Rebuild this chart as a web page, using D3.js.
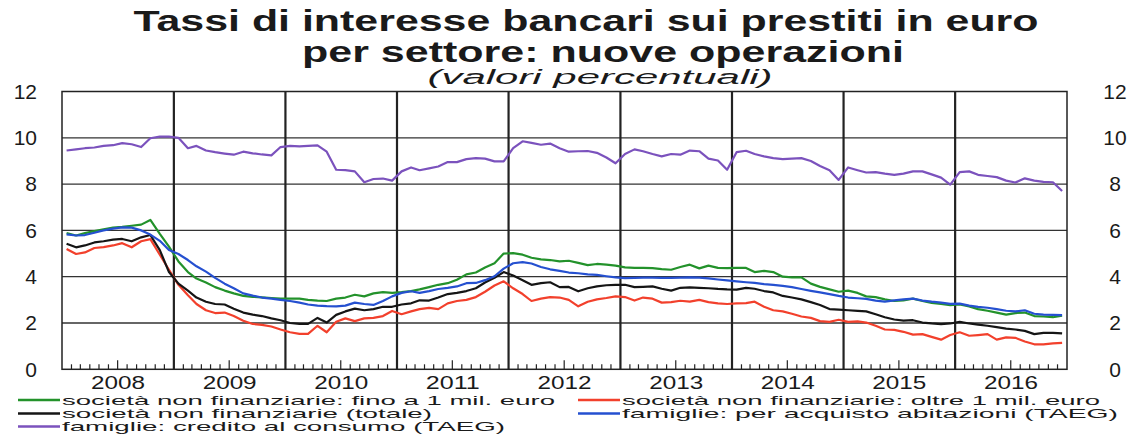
<!DOCTYPE html>
<html>
<head>
<meta charset="utf-8">
<script src="https://cdn.jsdelivr.net/npm/d3@7"></script>
<style>
  html, body { margin: 0; padding: 0; background: #fff; }
  svg { display: block; font-family: "Liberation Sans", Arial, sans-serif; }
</style>
</head>
<body>
<svg id="chart" width="1130" height="434"></svg>
<script>
// ---------- DATA (monthly, Jan 2008 - Dec 2016) ----------
const startYear = 2008;
const yearLabels = ["2008","2009","2010","2011","2012","2013","2014","2015","2016"];
const yTicks = [0, 2, 4, 6, 8, 10, 12];

const sncFino1 = [
  5.88, 5.78, 5.88, 5.97, 6.05, 6.12, 6.15, 6.20, 6.25, 6.45, 5.85, 5.30,
  4.66, 4.20, 3.92, 3.75, 3.55, 3.40, 3.28, 3.17, 3.13, 3.11, 3.08, 3.05,
  3.05, 3.05, 3.00, 2.97, 2.95, 3.05, 3.10, 3.22, 3.15, 3.28, 3.33, 3.30,
  3.33, 3.38, 3.45, 3.55, 3.65, 3.72, 3.87, 4.10, 4.18, 4.40, 4.58, 5.00,
  5.02, 4.95, 4.82, 4.75, 4.72, 4.66, 4.69, 4.60, 4.50, 4.55, 4.52, 4.48,
  4.40, 4.38, 4.38, 4.37, 4.33, 4.30, 4.42, 4.52, 4.36, 4.48, 4.38, 4.37,
  4.38, 4.38, 4.20, 4.25, 4.20, 4.00, 3.97, 3.97, 3.70, 3.56, 3.45, 3.35,
  3.40, 3.30, 3.15, 3.12, 3.02, 2.95, 2.98, 3.05, 2.95, 2.87, 2.82, 2.77,
  2.80, 2.72, 2.60, 2.53, 2.45, 2.36, 2.43, 2.45, 2.30, 2.28, 2.25, 2.32
];
const sncOltre1 = [
  5.20, 4.98, 5.05, 5.24, 5.28, 5.35, 5.45, 5.27, 5.53, 5.62, 4.95, 4.30,
  3.65, 3.20, 2.82, 2.55, 2.43, 2.45, 2.30, 2.10, 1.96, 1.92, 1.85, 1.72,
  1.60, 1.53, 1.53, 1.88, 1.60, 2.05, 2.20, 2.08, 2.20, 2.22, 2.30, 2.52,
  2.38, 2.50, 2.60, 2.65, 2.60, 2.85, 2.95, 3.00, 3.12, 3.35, 3.62, 3.80,
  3.50, 3.25, 2.95, 3.05, 3.12, 3.10, 3.00, 2.72, 2.92, 3.02, 3.08, 3.15,
  3.12, 2.97, 3.10, 3.05, 2.88, 2.90, 2.96, 2.92, 3.00, 2.90, 2.85, 2.82,
  2.85, 2.86, 2.92, 2.70, 2.55, 2.50, 2.40, 2.28, 2.22, 2.08, 2.05, 2.14,
  2.05, 2.07, 2.02, 1.88, 1.72, 1.70, 1.62, 1.50, 1.52, 1.40, 1.28, 1.48,
  1.60, 1.45, 1.48, 1.52, 1.28, 1.38, 1.36, 1.20, 1.08, 1.08, 1.12, 1.14
];
const sncTotale = [
  5.42, 5.27, 5.35, 5.48, 5.53, 5.60, 5.63, 5.53, 5.70, 5.80, 5.15, 4.20,
  3.70, 3.40, 3.10, 2.92, 2.82, 2.80, 2.62, 2.45, 2.36, 2.30, 2.20, 2.12,
  2.00, 1.96, 1.96, 2.22, 2.02, 2.35, 2.50, 2.62, 2.55, 2.60, 2.70, 2.70,
  2.80, 2.85, 2.98, 2.97, 3.10, 3.25, 3.30, 3.38, 3.50, 3.75, 3.95, 4.20,
  4.05, 3.85, 3.65, 3.72, 3.76, 3.55, 3.56, 3.37, 3.50, 3.58, 3.63, 3.65,
  3.65, 3.55, 3.56, 3.58, 3.48, 3.40, 3.52, 3.54, 3.52, 3.50, 3.47, 3.45,
  3.44, 3.52, 3.48, 3.38, 3.32, 3.17, 3.10, 3.02, 2.90, 2.78, 2.60, 2.58,
  2.55, 2.52, 2.50, 2.38, 2.25, 2.15, 2.10, 2.12, 2.02, 1.98, 1.95, 1.98,
  2.05, 1.98, 1.93, 1.88, 1.82, 1.76, 1.72, 1.66, 1.52, 1.57, 1.57, 1.55
];
const famAbitazioni = [
  5.83, 5.78, 5.80, 5.90, 6.00, 6.08, 6.13, 6.12, 6.00, 5.82, 5.55, 5.15,
  4.98, 4.72, 4.45, 4.22, 3.95, 3.70, 3.50, 3.28, 3.18, 3.10, 3.05, 3.00,
  2.95, 2.88, 2.80, 2.75, 2.73, 2.72, 2.75, 2.88, 2.82, 2.78, 2.95, 3.15,
  3.30, 3.37, 3.30, 3.38, 3.47, 3.52, 3.58, 3.72, 3.73, 3.85, 4.02, 4.35,
  4.58, 4.63, 4.57, 4.42, 4.32, 4.25, 4.18, 4.15, 4.10, 4.08, 4.02, 3.97,
  3.94, 3.95, 3.96, 3.96, 3.95, 3.95, 3.96, 3.97, 3.96, 3.93, 3.88, 3.84,
  3.80, 3.76, 3.73, 3.68, 3.65, 3.60, 3.55, 3.47, 3.39, 3.32, 3.25, 3.17,
  3.10, 3.07, 3.04, 2.97, 2.92, 2.98, 3.02, 3.05, 2.97, 2.92, 2.88, 2.83,
  2.84, 2.75, 2.70, 2.66, 2.60, 2.53, 2.50, 2.55, 2.40, 2.36, 2.35, 2.34
];
const famConsumo = [
  9.45, 9.50, 9.55, 9.58, 9.65, 9.68, 9.77, 9.72, 9.60, 9.98, 10.05, 10.05,
  10.00, 9.55, 9.65, 9.45, 9.38, 9.32, 9.27, 9.40, 9.33, 9.28, 9.24, 9.60,
  9.65, 9.63, 9.65, 9.67, 9.40, 8.62, 8.60, 8.55, 8.08, 8.22, 8.24, 8.15,
  8.55, 8.72, 8.60, 8.68, 8.76, 8.95, 8.95, 9.08, 9.12, 9.10, 8.98, 8.98,
  9.55, 9.85, 9.78, 9.70, 9.75, 9.55, 9.40, 9.42, 9.43, 9.35, 9.15, 8.90,
  9.30, 9.50, 9.42, 9.30, 9.20, 9.30, 9.27, 9.45, 9.42, 9.10, 9.02, 8.62,
  9.38, 9.44, 9.30, 9.20, 9.12, 9.08, 9.10, 9.12, 9.00, 8.78, 8.60, 8.18,
  8.72, 8.60, 8.50, 8.52, 8.45, 8.40, 8.45, 8.55, 8.55, 8.42, 8.28, 7.98,
  8.52, 8.55, 8.40, 8.35, 8.30, 8.15, 8.07, 8.25, 8.15, 8.10, 8.08, 7.70
];

const seriesNames = [
  "società non finanziarie: fino a 1 mil. euro",
  "società non finanziarie: oltre 1 mil. euro",
  "società non finanziarie (totale)",
  "famiglie: per acquisto abitazioni (TAEG)",
  "famiglie: credito al consumo (TAEG)"
];
const seriesColors = ["#23922b", "#f2402c", "#151515", "#2550d0", "#7b52bd"];
const seriesValues = [sncFino1, sncOltre1, sncTotale, famAbitazioni, famConsumo];

// ---------- LAYOUT ----------
const svg = d3.select("#chart");
const plot = { left: 62, right: 1067, top: 91.5, bottom: 369.3 };

const x = d3.scaleTime()
  .domain([new Date(startYear, 0, 1), new Date(startYear + yearLabels.length, 0, 1)])
  .range([plot.left, plot.right]);
const y = d3.scaleLinear().domain([0, 12]).range([plot.bottom, plot.top]);

const monthDate = i => new Date(startYear, i, 16);

// Title (the original artwork is horizontally stretched)
svg.append("text").attr("x", 586).attr("y", 31).attr("text-anchor", "middle")
  .attr("font-size", 30).attr("font-weight", "bold").attr("fill", "#1a1a1a")
  .attr("textLength", 905).attr("lengthAdjust", "spacingAndGlyphs")
  .text("Tassi di interesse bancari sui prestiti in euro");
svg.append("text").attr("x", 603).attr("y", 62).attr("text-anchor", "middle")
  .attr("font-size", 30).attr("font-weight", "bold").attr("fill", "#1a1a1a")
  .attr("textLength", 602).attr("lengthAdjust", "spacingAndGlyphs")
  .text("per settore: nuove operazioni");
svg.append("text").attr("x", 600).attr("y", 84).attr("text-anchor", "middle")
  .attr("font-size", 20).attr("font-style", "italic").attr("fill", "#1a1a1a")
  .attr("textLength", 345).attr("lengthAdjust", "spacingAndGlyphs")
  .text("(valori percentuali)");

// Horizontal gridlines
svg.append("g").selectAll("line").data(yTicks.filter(d => d > 0 && d < 12)).join("line")
  .attr("x1", plot.left).attr("x2", plot.right)
  .attr("y1", d => y(d)).attr("y2", d => y(d))
  .attr("stroke", "#333").attr("stroke-width", 1.3);

// Year separator lines
const years = d3.timeYear.range(new Date(startYear + 1, 0, 1), new Date(startYear + yearLabels.length, 0, 1));
svg.append("g").selectAll("line").data(years).join("line")
  .attr("x1", d => x(d)).attr("x2", d => x(d))
  .attr("y1", plot.top).attr("y2", plot.bottom)
  .attr("stroke", "#222").attr("stroke-width", 2.2);

// Monthly ticks (inside, from bottom)
const monthsAll = d3.timeMonth.range(new Date(startYear, 0, 1), new Date(startYear + yearLabels.length, 0, 1))
  .filter(d => d.getMonth() !== 0);
svg.append("g").selectAll("line").data(monthsAll).join("line")
  .attr("x1", d => x(d)).attr("x2", d => x(d))
  .attr("y1", plot.bottom).attr("y2", d => plot.bottom - (d.getMonth() === 6 ? 9 : 5))
  .attr("stroke", "#222").attr("stroke-width", 1.2);

// Frame
svg.append("rect").attr("x", plot.left).attr("y", plot.top)
  .attr("width", plot.right - plot.left).attr("height", plot.bottom - plot.top)
  .attr("fill", "none").attr("stroke", "#222").attr("stroke-width", 1.5);

// Left & right axis labels
svg.append("g").selectAll("text").data(yTicks).join("text")
  .attr("x", 37).attr("y", d => y(d)).attr("dy", "0.35em")
  .attr("text-anchor", "end").attr("font-size", 21).attr("fill", "#1a1a1a")
  .text(d => d);
svg.append("g").selectAll("text").data(yTicks).join("text")
  .attr("x", 1115).attr("y", d => y(d)).attr("dy", "0.35em")
  .attr("text-anchor", "middle").attr("font-size", 21).attr("fill", "#1a1a1a")
  .text(d => d);

// Year labels
svg.append("g").selectAll("text").data(yearLabels).join("text")
  .attr("x", (d, i) => (x(new Date(startYear + i, 0, 1)) + x(new Date(startYear + i + 1, 0, 1))) / 2)
  .attr("y", 389).attr("text-anchor", "middle").attr("font-size", 19).attr("fill", "#1a1a1a")
  .attr("textLength", 54).attr("lengthAdjust", "spacingAndGlyphs")
  .text(d => d);

// Series lines
const line = d3.line().x((d, i) => x(monthDate(i))).y(d => y(d));
svg.append("g").selectAll("path").data(seriesValues).join("path")
  .attr("d", d => line(d))
  .attr("fill", "none")
  .attr("stroke", (d, i) => seriesColors[i])
  .attr("stroke-width", 2.2)
  .attr("stroke-linejoin", "round");

// Legend
const legendPos = [
  { x: 18, y: 400, w: 493 },
  { x: 578, y: 400, w: 478 },
  { x: 18, y: 413.5, w: 370 },
  { x: 578, y: 413.5, w: 496 },
  { x: 18, y: 426.5, w: 443 }
];
const lg = svg.append("g").selectAll("g").data(seriesNames).join("g")
  .attr("transform", (d, i) => `translate(${legendPos[i].x},${legendPos[i].y})`);
lg.append("line").attr("x1", 0).attr("x2", 42).attr("y1", 0).attr("y2", 0)
  .attr("stroke", (d, i) => seriesColors[i]).attr("stroke-width", 2.5);
lg.append("text").attr("x", 44).attr("y", 0).attr("dy", "0.36em")
  .attr("font-size", 13.5).attr("fill", "#1a1a1a")
  .attr("textLength", (d, i) => legendPos[i].w)
  .attr("lengthAdjust", "spacingAndGlyphs")
  .text(d => d);
</script>
</body>
</html>
